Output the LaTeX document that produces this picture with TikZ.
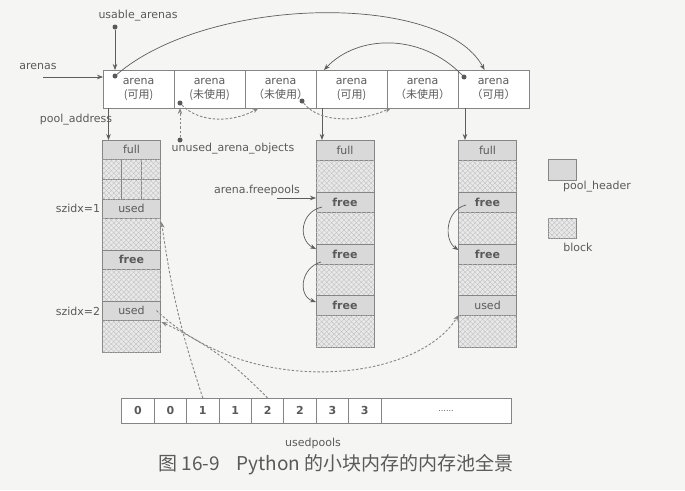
\documentclass[tikz,border=0pt]{standalone}
\usepackage{fontspec}
\setmainfont{DejaVu Sans}
\newfontfamily\cjk{Noto Sans CJK SC}
\usetikzlibrary{arrows.meta,patterns.meta}
\definecolor{paper}{HTML}{F5F5F3}
\definecolor{ln}{HTML}{858585}
\definecolor{txt}{HTML}{5A5A5A}
\definecolor{hdrfill}{HTML}{D9D9D9}
\definecolor{blkfill}{HTML}{E9E9E9}
\definecolor{hatch}{HTML}{BDBDBD}

\begin{document}
\begin{tikzpicture}
  [x=1pt,y=-1pt,
   every node/.style={text=txt,font=\fontsize{11}{14}\selectfont},
   cell/.style={draw=ln,line width=.7pt,inner sep=0pt,outer sep=0pt},
   hdr/.style={cell,fill=hdrfill,minimum width=58pt,minimum height=20pt},
   fhdr/.style={hdr,font=\fontsize{11}{14}\selectfont\bfseries},
   blk/.style={cell,fill=blkfill,minimum width=58pt,minimum height=32pt,
     postaction={pattern={Lines[angle=45,distance=3.5pt,line width=.35pt]},pattern color=hatch},
     postaction={pattern={Lines[angle=-45,distance=3.5pt,line width=.35pt]},pattern color=hatch}},
   acell/.style={cell,fill=white,minimum width=71pt,minimum height=38pt,align=center},
   ucell/.style={cell,fill=white,minimum width=32.4pt,minimum height=25pt,
     font=\fontsize{11}{14}\selectfont\bfseries},
   dot/.style={circle,fill=txt,inner sep=0pt,minimum size=5pt},
   arr/.style={draw=ln!70!black,line width=.7pt,-{Stealth[length=6pt,width=4.5pt]}},
   darr/.style={arr,line width=.9pt,draw=ln,dash pattern=on 2.5pt off 1.8pt}]
  \useasboundingbox (0,0) rectangle (685,490);
  \fill[paper] (0,0) rectangle (685,490);

  % arenas
  \foreach \i/\lbl in {1/{(可用)},2/{(未使用)},3/{（未使用）},4/{(可用)},5/{（未使用）},6/{（可用）}}
    \node[acell] (a\i) at (67.5+71*\i,89) {arena\\[0pt]{\cjk\lbl}};

  % pools
  \foreach \n/\yy/\h/\s/\lbl in {1/140/19/hdr/full,3/199/19/hdr/used,4/218/32/blk/,
      5/250/19/fhdr/free,6/269/32/blk/,7/301/19/hdr/used,8/320/32/blk/}
    \node[\s,minimum height=\h pt,anchor=north] (p1\n) at (131.5,\yy) {\lbl};
  \foreach \i in {0,1,2}
    \foreach \j in {0,1}
      \node[blk,minimum width=19.33pt,minimum height=20pt,anchor=north west] (g\i\j)
        at (102.5+19.33*\i,159+20*\j) {};
  \foreach \n/\yy/\h/\s/\lbl in {1/140/20/hdr/full,2/160/32/blk/,3/192/20/fhdr/free,4/212/32/blk/,
      5/244/20/fhdr/free,6/264/31/blk/,7/295/20/fhdr/free,8/315/32/blk/}
    \node[\s,minimum height=\h pt,anchor=north] (p2\n) at (345,\yy) {\lbl};
  \foreach \n/\yy/\h/\s/\lbl in {1/140/20/hdr/full,2/160/32/blk/,3/192/20/fhdr/free,4/212/32/blk/,
      5/244/20/fhdr/free,6/264/31/blk/,7/295/20/hdr/used,8/315/32/blk/}
    \node[\s,minimum height=\h pt,anchor=north] (p3\n) at (487.5,\yy) {\lbl};

  % usedpools
  \foreach \i/\v in {1/0,2/0,3/1,4/1,5/2,6/2,7/3,8/3}
    \node[ucell] (u\i) at (105.6+32.4*\i,410.5) {\v};
  \node[ucell,minimum width=130pt,font=\fontsize{8}{10}\selectfont] (u9) at (446,410.5) {......};

  % legend
  \node[hdr,minimum width=28pt,minimum height=21pt] (lg1) at (562,169.5) {};
  \node (lgt1) at (597,187) {pool\_header};
  \node[blk,minimum width=28pt,minimum height=20pt] (lg2) at (562,228) {};
  \node (lgt2) at (578,247) {block};

  % labels
  \node (usable) at (138,16) {usable\_arenas};
  \node (arenas) at (38,66) {arenas};
  \node (pooladdr) at (76,120) {pool\_address};
  \node (unused) at (233,149) {unused\_arena\_objects};
  \node (freepools) at (257,190) {arena.freepools};
  \node (sz1) at (78,208) {szidx=1};
  \node (sz2) at (78,311) {szidx=2};
  \node (usedpools) at (313,443) {usedpools};
  \node (cap) at (336,465) {\cjk\fontsize{19}{22}\selectfont 图 16-9\hspace{.9em}Python 的小块内存的内存池全景};

  % dots
  \node[dot] (d1) at (115,76) {};
  \node[dot] (d2) at (180,103) {};
  \node[dot] (d3) at (302,101) {};
  \node[dot] (d6) at (464,77) {};
  \node[dot] (ud) at (115,27) {};
  \node[dot] (uo) at (180,140) {};
  \coordinate (arin) at (43,77);
  \coordinate (fp) at (277,198);

  % solid links
  \draw[arr] (ud) -- (ud |- a1.north);
  \draw[arr] (arin) -- (arin -| a1.west);
  \draw[arr] ([xshift=-30pt]a1.south) -- ([xshift=-30pt]a1.south |- p11.north);
  \draw[arr] ([xshift=-29.5pt]a4.south) -- ([xshift=-29.5pt]a4.south |- p21.north);
  \draw[arr] ([xshift=-28.5pt]a6.south) -- ([xshift=-28.5pt]a6.south |- p31.north);
  \draw[arr] (d1) .. controls (210,-5) and (443,-8) .. ([xshift=-9pt]a6.north);
  \draw[arr] (d6) .. controls (420,32) and (357,35) .. ([xshift=-27.5pt]a4.north);
  \draw[arr] (fp) -- (fp -| p23.west);
  \draw[arr] ([shift={(-23,5)}]p23.center) .. controls ([shift={(-45,10)}]p23.center)
    and ([shift={(-47,38)}]p23.center) .. ([shift={(0,-5)}]p25.west);
  \draw[arr] ([shift={(-24,8)}]p25.center) .. controls ([shift={(-45,14)}]p25.center)
    and ([shift={(-47,42)}]p25.center) .. ([shift={(0,-3)}]p27.west);
  \draw[arr] ([shift={(-21.5,3)}]p33.center) .. controls ([shift={(-42,8)}]p33.center)
    and ([shift={(-44,38)}]p33.center) .. ([shift={(0,-4)}]p35.west);

  % dashed links
  \draw[darr] (uo) -- (uo |- a2.south);
  \draw[darr] (d2) .. controls (200,124) and (235,122) .. ([xshift=-22pt]a3.south);
  \draw[darr] (d3) .. controls (320,124) and (360,122) .. ([xshift=-31.5pt]a5.south);
  \draw[darr] (u3.north) to[bend left=5] ([shift={(1,4)}]p14.north east);
  \draw[darr] (u5.north) to[bend right=10] ([shift={(1,2)}]p18.north east);
  \draw[darr] ([xshift=-4pt]p17.east) .. controls (250,400) and (417,382) .. (p38.north west);
\end{tikzpicture}
\end{document}
